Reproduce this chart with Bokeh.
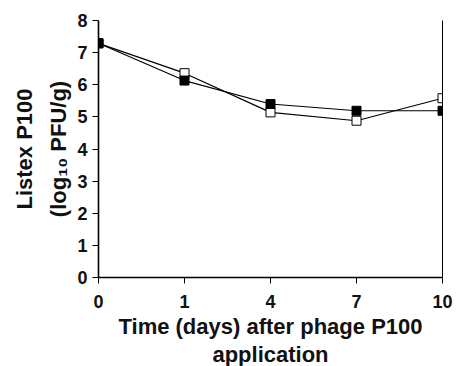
from bokeh.plotting import figure
from bokeh.models import Range1d, FixedTicker, LinearAxis, Title, ColumnDataSource
from bokeh.embed import file_html
from bokeh.resources import INLINE

# ---- data ----
days = ["0", "1", "4", "7", "10"]
filled_series = [7.29, 6.13, 5.40, 5.19, 5.19]
open_series = [7.29, 6.36, 5.14, 4.88, 5.58]
y_ticks = [0, 1, 2, 3, 4, 5, 6, 7, 8]

FONT = "Liberation Sans"
xs = list(range(len(days)))
src = ColumnDataSource(dict(x=xs, f=filled_series, o=open_series))

p = figure(
    width=458, height=366,
    output_backend="svg", toolbar_location=None,
    x_range=Range1d(0, len(days) - 1), y_range=Range1d(y_ticks[0], y_ticks[-1]),
    min_border_left=98, min_border_right=16, min_border_top=20, min_border_bottom=89,
)
p.outline_line_color = None
p.xgrid.visible = False
p.ygrid.visible = False

for ax in (p.xaxis[0], p.yaxis[0]):
    ax.axis_line_color = "black"
    ax.axis_line_width = 1.6
    ax.major_tick_line_color = "black"
    ax.major_tick_line_width = 1
    ax.major_tick_out = 6
    ax.major_tick_in = 0
    ax.minor_tick_line_color = None
    ax.major_label_text_font = FONT
    ax.major_label_text_font_style = "bold"
    ax.major_label_text_font_size = "18px"
    ax.major_label_text_color = "#111111"

p.xaxis[0].ticker = FixedTicker(ticks=xs)
p.xaxis[0].major_label_overrides = {i: d for i, d in zip(xs, days)}
p.xaxis[0].major_label_standoff = 11
p.yaxis[0].ticker = FixedTicker(ticks=y_ticks)
p.yaxis[0].major_label_standoff = 5

right = LinearAxis(ticker=FixedTicker(ticks=[]), axis_line_color="black", axis_line_width=1,
                   major_tick_line_color=None, minor_tick_line_color=None,
                   major_label_text_font_size="0px")
p.add_layout(right, "right")

# series
p.line("x", "o", source=src, line_color="black", line_width=1.2)
p.line("x", "f", source=src, line_color="black", line_width=1.2)
p.scatter("x", "o", source=src, marker="square", size=9, fill_color="white",
          line_color="black", line_width=1)
p.scatter("x", "f", source=src, marker="square", size=9, fill_color="black",
          line_color="black", line_width=1)

# ---- titles ----
common = dict(text_font=FONT, text_font_style="bold", text_color="#111111",
              text_font_size="22px", align="center")

# y title: inner line first, then outer line
p.add_layout(Title(text="(log\u2081\u2080 PFU/g)", standoff=7, offset=2, **common), "left")
p.add_layout(Title(text="Listex P100", standoff=8, offset=2, **common), "left")

# x title: upper line first, then lower line
p.add_layout(Title(text="Time (days) after phage P100", standoff=2, offset=4, **common), "below")
p.add_layout(Title(text="application", standoff=0, offset=9, **common), "below")

open("out.html", "w").write(file_html(p, INLINE))
